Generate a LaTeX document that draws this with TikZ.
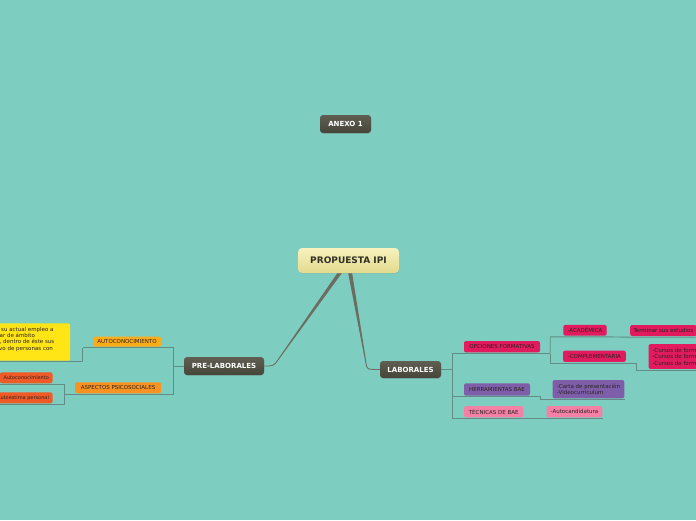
\documentclass[tikz,border=0pt]{standalone}
\usepackage{fontspec}
\setmainfont{DejaVu Sans}
\usetikzlibrary{calc,shadows}
\definecolor{bgc}{RGB}{125,206,193}
\definecolor{dkA}{RGB}{96,94,82}
\definecolor{dkB}{RGB}{70,69,58}
\definecolor{rtA}{RGB}{247,242,190}
\definecolor{rtB}{RGB}{226,218,142}
\definecolor{rtT}{RGB}{50,48,36}
\definecolor{txt}{RGB}{45,35,35}
\definecolor{orA}{RGB}{250,172,26}
\definecolor{orB}{RGB}{248,146,32}
\definecolor{yel}{RGB}{255,228,22}
\definecolor{red}{RGB}{240,90,38}
\definecolor{pink}{RGB}{226,26,94}
\definecolor{purp}{RGB}{126,94,168}
\definecolor{lpink}{RGB}{244,128,166}
\definecolor{brc}{RGB}{98,140,132}
\definecolor{mainc}{RGB}{108,108,96}
\pgfdeclarelayer{back}
\pgfsetlayers{back,main}
\begin{document}
\begin{tikzpicture}[x=1pt,y=-1pt,
  lbl/.style={rectangle, rounded corners=2pt, inner sep=0pt, text=txt,
    font=\fontsize{5.5}{6.3}\selectfont},
  darkbox/.style={rectangle, rounded corners=3pt, inner sep=0pt, top color=dkA, bottom color=dkB,
    text=white, font=\bfseries\fontsize{7}{8}\selectfont,
    drop shadow={opacity=0.25, shadow xshift=0.4pt, shadow yshift=-0.8pt}},
  rootbox/.style={rectangle, rounded corners=4pt, inner sep=0pt, top color=rtA, bottom color=rtB,
    text=rtT, font=\bfseries\fontsize{9}{10}\selectfont,
    drop shadow={opacity=0.2, shadow xshift=0.4pt, shadow yshift=-0.8pt}},
  br/.style={draw=brc, line width=0.9pt},
  conn/.style={fill=mainc},
  plain/.style={inner sep=0pt, text=txt, font=\fontsize{5.5}{6.3}\selectfont}
]
\useasboundingbox (0,0) rectangle (696,520);
\clip (0,0) rectangle (696,520);

% main nodes
\node[darkbox, minimum width=51pt, minimum height=18pt] (anexo) at (345.5,124) {ANEXO 1};
\node[rootbox, minimum width=101pt, minimum height=25pt] (root) at (348.5,260.5) {PROPUESTA IPI};
\node[darkbox, minimum width=80pt, minimum height=18pt] (pre) at (224,366) {PRE-LABORALES};
\node[darkbox, minimum width=61pt, minimum height=17pt] (lab) at (410.5,369.5) {LABORALES};

% left side
\node[lbl, fill=orA, minimum width=68pt, minimum height=10pt] (auto) at (127,341.7) {AUTOCONOCIMIENTO};
\node[lbl, fill=orB, minimum width=86pt, minimum height=11pt] (asp) at (118,387.8) {ASPECTOS PSICOSOCIALES};
\node[lbl, fill=yel, minimum width=80pt, minimum height=37.4pt, anchor=east] (yb) at (70.3,342) {};
\node[plain, anchor=base west] (y1) at (1,331) {su actual empleo a};
\node[plain, anchor=base west] (y2) at (-0.5,337.3) {ar de ámbito};
\node[plain, anchor=base west] (y3) at (-0.5,343.6) {, dentro de éste sus};
\node[plain, anchor=base west] (y4) at (-1,350) {vo de personas con};
\node[lbl, fill=red, minimum height=11pt, inner xsep=3.6pt, anchor=east, font=\fontsize{5}{6}\selectfont] (ac) at (52.7,377.8) {Autoconocimiento};
\node[lbl, fill=red, minimum height=11pt, inner xsep=3.6pt, anchor=east, font=\fontsize{5}{6}\selectfont] (ae) at (52.7,397.8) {Autoestima personal};

% right side
\node[lbl, fill=pink, minimum width=76pt, minimum height=11.3pt] (opc) at (502,346.7) {OPCIONES FORMATIVAS};
\node[lbl, fill=pink, minimum width=43.4pt, minimum height=10.7pt] (acad) at (585,330.3) {-ACADÉMICA};
\node[lbl, fill=pink, minimum height=11pt, inner xsep=3.3pt, anchor=west] (term) at (630,330.5) {Terminar sus estudios};
\node[lbl, fill=pink, minimum width=62.7pt, minimum height=11.3pt] (comp) at (594.4,356.3) {-COMPLEMENTARIA};
\node[lbl, fill=pink, minimum height=24.7pt, inner xsep=4pt, align=left, anchor=north west,
  font=\fontsize{5.5}{6.6}\selectfont] (curs) at (648.3,344) {-Cursos de formación\\-Cursos de formación\\-Cursos de formación};
\node[lbl, fill=purp, minimum width=66pt, minimum height=12.3pt] (herr) at (497,389.5) {HERRAMIENTAS BAE};
\node[lbl, fill=purp, minimum width=71.6pt, minimum height=18.3pt, align=left,
  font=\fontsize{5.5}{6.4}\selectfont] (carta) at (588.5,389.2) {-Carta de presentación\\-Videocurriculum};
\node[lbl, fill=lpink, minimum width=59.3pt, minimum height=11.3pt] (tec) at (493.7,411.7) {TÉCNICAS DE BAE};
\node[lbl, fill=lpink, minimum width=55.6pt, minimum height=11.3pt] (autoc) at (574.5,411.7) {-Autocandidatura};

\begin{pgfonlayer}{back}
\fill[bgc] (0,0) rectangle (696,520);
% root connectors (tapered)
\fill[conn] ($(root.south)+(-10.5,-1)$) -- ($(root.south)+(-6,-1)$) -- ($(pre.east)+(13.5,-5)$)
  .. controls ($(pre.east)+(9.5,0.3)$) .. ($(pre.east)+(0,0.4)$) -- ($(pre.east)+(0,-0.4)$)
  .. controls ($(pre.east)+(8.7,-0.4)$) .. ($(pre.east)+(12.7,-5.3)$) -- cycle;
\fill[conn] ($(root.south)+(-0.5,-1)$) -- ($(root.south)+(3.5,-1)$) -- ($(lab.west)+(-13.2,-5.3)$)
  .. controls ($(lab.west)+(-12.2,-0.4)$) .. ($(lab.west)+(0,-0.4)$) -- ($(lab.west)+(0,0.4)$)
  .. controls ($(lab.west)+(-13,0.3)$) .. ($(lab.west)+(-14,-5)$) -- cycle;

% left branches
\coordinate (lj) at ($(pre.west)+(-10,0)$);
\draw[br] (pre.west) -- (lj);
\draw[br] (lj) |- ($(auto.south east)+(0,1)$) -- ($(auto.south west)+(-10,1)$) coordinate (aj);
\draw[br] (aj) |- ($(yb.south east)+(0,1)$) -- ($(yb.south west)+(0,1)$);
\draw[br] (lj) |- ($(asp.south east)+(0,1)$) -- ($(asp.south west)+(-10,1)$) coordinate (sj);
\draw[br] (sj) |- ($(ac.south east)+(0,1)$) -- ($(ac.south west)+(0,1)$);
\draw[br] (sj) |- ($(ae.south east)+(0,1)$) -- ($(ae.south west)+(0,1)$);

% right branches
\coordinate (rj) at ($(lab.east)+(11.5,0)$);
\draw[br] (lab.east) -- (rj);
\draw[br] (rj) |- ($(opc.south east)+(0,1)$) -- ++(10,0) coordinate (oj);
\draw[br] (oj) |- ($(acad.south east)+(0,1)$) -- ($(term.south west)+(0,1)$) -- ($(term.south east)+(0,1)$);
\draw[br] (oj) |- ($(comp.south east)+(0,1)$) -- ++(10,0) |- ($(curs.south west)+(0,1)$) -- ($(curs.south east)+(0,1)$);
\draw[br] (rj) |- ($(herr.south east)+(0,1)$) -- ++(10,0) |- ($(carta.south west)+(0,1)$) -- ($(carta.south east)+(0,1)$);
\draw[br] (rj) |- ($(tec.south west)+(0,1)$) -- ($(autoc.south east)+(0,1)$);
\end{pgfonlayer}
\end{tikzpicture}
\end{document}
